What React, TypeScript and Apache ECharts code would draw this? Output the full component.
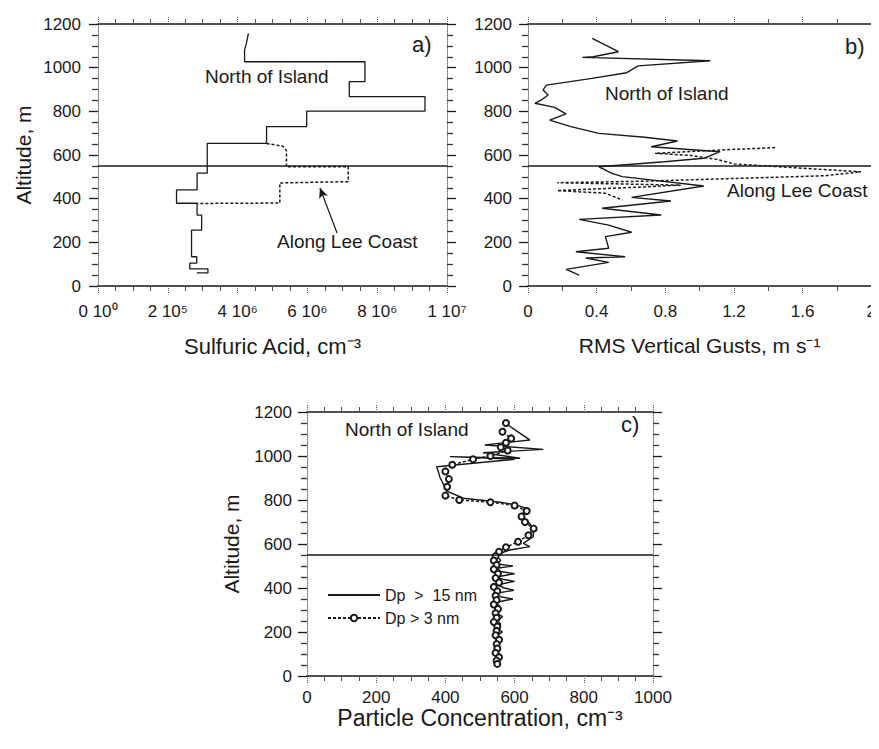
import React, { useEffect, useRef } from "react";
import * as echarts from "echarts";

// ---------- DATA ----------
const altTicks = [0, 200, 400, 600, 800, 1000, 1200];
const sulfuricTickLabels = ["0 10⁰", "2 10⁵", "4 10⁶", "6 10⁶", "8 10⁶", "1 10⁷"];
const gustTickLabels = ["0", "0.4", "0.8", "1.2", "1.6", "2"];
const particleTickLabels = ["0", "200", "400", "600", "800", "1000"];

// Panel a: sulfuric acid (cm^-3) vs altitude (m)
const sulfuricNorth: [number, number][] = [
  [4.31e6, 1157], [4.25e6, 1110], [4.2e6, 1081], [4.2e6, 1027], [7.65e6, 1027],
  [7.65e6, 936], [7.2e6, 936], [7.2e6, 867], [9.37e6, 867], [9.37e6, 801],
  [5.98e6, 801], [5.98e6, 730], [4.83e6, 730], [4.83e6, 653], [3.13e6, 653],
  [3.13e6, 517], [2.84e6, 517], [2.84e6, 440], [2.25e6, 440], [2.25e6, 379],
  [2.84e6, 379], [2.84e6, 325], [2.97e6, 325], [2.97e6, 256], [2.68e6, 256],
  [2.68e6, 134], [2.83e6, 134], [2.83e6, 105], [2.63e6, 105], [2.63e6, 78],
  [3.15e6, 78], [3.15e6, 60], [2.83e6, 60],
];
const sulfuricLee: [number, number][] = [
  [4.83e6, 653], [5.3e6, 640], [5.4e6, 620], [5.4e6, 546], [7.17e6, 546],
  [7.17e6, 478], [5.21e6, 472], [5.21e6, 380], [2.84e6, 378],
];
const arrowFrom: [number, number] = [6.85e6, 243];
const arrowTo: [number, number] = [6.36e6, 449];

// Panel b: RMS vertical gusts (m/s) vs altitude (m)
const gustNorth: [number, number][] = [
  [0.374, 1134], [0.527, 1073], [0.38, 1050], [0.317, 1047], [1.062, 1032],
  [0.642, 1008], [0.575, 977], [0.373, 951], [0.107, 920], [0.088, 898],
  [0.117, 875], [0.078, 852], [0.04, 837], [0.155, 818], [0.222, 788],
  [0.126, 760], [0.25, 730], [0.413, 699], [0.68, 681], [0.871, 664],
  [0.718, 638], [1.119, 615], [1.024, 585], [0.795, 569], [0.413, 546],
  [0.489, 516], [0.55, 501], [1.024, 458], [0.604, 406], [0.833, 389],
  [0.432, 356], [0.776, 325], [0.298, 305], [0.47, 279], [0.604, 246],
  [0.451, 226], [0.47, 173], [0.279, 157], [0.566, 134], [0.336, 128],
  [0.47, 108], [0.222, 76], [0.298, 50],
];
const gustLee: [number, number][] = [
  [1.44, 634], [1.1, 622], [0.74, 608], [0.95, 598], [1.1, 580], [1.2, 559],
  [1.94, 523], [1.73, 505], [0.68, 480], [0.17, 473], [0.89, 462], [0.62, 452],
  [0.17, 437], [0.45, 425], [0.55, 394],
];

// Panel c: particle concentration (cm^-3) vs altitude (m)
const particleDp15: [number, number][] = [
  [567, 1156], [600, 1120], [644, 1073], [514, 1050], [683, 1030], [509, 1015],
  [616, 990], [413, 997], [600, 985], [375, 951], [385, 900], [395, 870],
  [404, 840], [452, 808], [560, 790], [606, 777], [635, 762], [616, 725],
  [644, 694], [654, 660], [654, 633], [625, 603], [644, 588], [587, 573],
  [558, 558], [548, 545], [560, 525], [545, 510], [595, 500], [550, 490],
  [560, 475], [600, 465], [548, 450], [565, 440], [600, 430], [550, 415],
  [570, 400], [598, 390], [545, 375], [560, 360], [595, 350], [548, 335],
  [555, 320], [560, 300], [548, 285], [565, 270], [552, 250], [560, 235],
  [548, 220], [565, 200], [550, 185], [560, 170], [552, 150], [555, 130],
  [548, 110], [560, 95], [550, 80], [555, 65], [552, 55],
];
const particleDp3: [number, number][] = [
  [575, 1150], [565, 1110], [590, 1080], [575, 1060], [560, 1040], [580, 1025],
  [530, 1000], [480, 985], [420, 960], [400, 930], [410, 895], [405, 860],
  [400, 820], [440, 800], [530, 790], [600, 775], [635, 750], [620, 725],
  [630, 700], [655, 670], [640, 640], [610, 610], [575, 585], [555, 565],
  [545, 545], [540, 525], [548, 505], [540, 485], [552, 465], [545, 445],
  [555, 425], [540, 405], [550, 385], [545, 365], [548, 345], [540, 325],
  [552, 305], [545, 285], [548, 265], [540, 245], [550, 225], [548, 205],
  [545, 185], [555, 165], [548, 145], [550, 125], [545, 105], [555, 85],
  [548, 70], [550, 55],
];
const boundaryAltitude = 550;

// ---------- STYLE HELPERS ----------
const FONT = "'Liberation Sans', Arial, Helvetica, sans-serif";
const INK = "#1a1a1a";

function baseX(gridIndex: number, min: number, max: number, interval: number, split: number,
  name: string, labels: string[], labelMargin: number, nameGap: number, nameSize: number) {
  return {
    type: "value",
    gridIndex,
    min,
    max,
    interval,
    position: "bottom",
    name,
    nameLocation: "middle",
    nameGap,
    nameTextStyle: { fontFamily: FONT, fontSize: nameSize, color: INK },
    axisLine: { show: true, onZero: false, lineStyle: { color: INK, width: 1.6 } },
    axisTick: { show: true, length: 8, lineStyle: { color: "#555", type: "dotted", width: 1 } },
    minorTick: { show: true, splitNumber: split, length: 5, lineStyle: { color: "#555", width: 1 } },
    splitLine: { show: false },
    axisLabel: {
      fontFamily: FONT, fontSize: 17, color: INK, margin: labelMargin,
      formatter: (v: number) => labels[Math.round((v - min) / interval)] ?? "",
    },
  };
}
function topX(gridIndex: number, min: number, max: number, interval: number, split: number) {
  return {
    type: "value", gridIndex, min, max, interval, position: "top",
    axisLine: { show: true, onZero: false, lineStyle: { color: INK, width: 1.6 } },
    axisTick: { show: true, length: 8, lineStyle: { color: "#555", type: "dotted", width: 1 } },
    minorTick: { show: true, splitNumber: split, length: 5, lineStyle: { color: "#555", width: 1 } },
    splitLine: { show: false },
    axisLabel: { show: false },
  };
}
function leftY(gridIndex: number, showName: boolean, nameGap: number, labelMargin: number) {
  return {
    type: "value", gridIndex, min: 0, max: 1200, interval: 200, position: "left",
    name: showName ? "Altitude, m" : "",
    nameLocation: "middle",
    nameGap,
    nameRotate: 90,
    nameTextStyle: { fontFamily: FONT, fontSize: 21, color: INK },
    axisLine: { show: true, onZero: false, lineStyle: { color: "#777", type: "dotted", width: 1 } },
    axisTick: { show: true, length: 9, lineStyle: { color: INK, width: 1.3 } },
    minorTick: { show: true, splitNumber: 4, length: 6, lineStyle: { color: "#333", width: 1.3 } },
    splitLine: { show: false },
    axisLabel: {
      fontFamily: FONT, fontSize: 17, color: INK, margin: labelMargin,
      formatter: (v: number) => (altTicks.includes(v) ? String(v) : ""),
    },
  };
}
function rightY(gridIndex: number) {
  return {
    type: "value", gridIndex, min: 0, max: 1200, interval: 200, position: "right",
    axisLine: { show: true, onZero: false, lineStyle: { color: "#777", type: "dotted", width: 1 } },
    axisTick: { show: true, length: 9, lineStyle: { color: INK, width: 1.3 } },
    minorTick: { show: true, splitNumber: 4, length: 6, lineStyle: { color: "#333", width: 1.3 } },
    splitLine: { show: false },
    axisLabel: { show: false },
  };
}
const boundaryLine = {
  silent: true,
  symbol: "none",
  label: { show: false },
  lineStyle: { color: INK, width: 1.6, type: "solid" },
  data: [{ yAxis: boundaryAltitude }],
};

export default function App() {
  const ref = useRef<HTMLDivElement>(null);
  useEffect(() => {
    if (!ref.current) return;
    const chart = echarts.init(ref.current, undefined, { renderer: "svg" });
    const solid = { color: INK, width: 1.3, type: "solid" };
    const dotted = { color: INK, width: 1.5, type: [3, 2] };
    const txt = (text: string, left: number, top: number, size: number) => ({
      type: "text", left, top, style: { text, font: `${size}px ${FONT}`, fill: INK },
    });
    chart.setOption({
      animation: false,
      backgroundColor: "#ffffff",
      textStyle: { fontFamily: FONT },
      grid: [
        { left: 98, top: 24, width: 349, height: 262 },
        { left: 528, top: 24, width: 349, height: 262 },
        { left: 307, top: 412, width: 346, height: 264 },
      ],
      xAxis: [
        baseX(0, 0, 1e7, 2e6, 4, "Sulfuric Acid, cm⁻³", sulfuricTickLabels, 17, 49, 22),
        topX(0, 0, 1e7, 2e6, 4),
        baseX(1, 0, 2, 0.4, 2, "RMS Vertical Gusts, m s⁻¹", gustTickLabels, 17, 49, 21),
        topX(1, 0, 2, 0.4, 2),
        baseX(2, 0, 1000, 200, 4, "Particle Concentration, cm⁻³", particleTickLabels, 13, 30, 23),
        topX(2, 0, 1000, 200, 4),
      ],
      yAxis: [
        leftY(0, true, 64, 17),
        rightY(0),
        leftY(1, false, 50, 16),
        rightY(1),
        leftY(2, true, 65, 15),
        rightY(2),
      ],
      legend: {
        left: 322,
        top: 582,
        orient: "vertical",
        itemWidth: 52,
        itemHeight: 8,
        itemGap: 7,
        textStyle: { fontFamily: FONT, fontSize: 16, color: INK },
        data: [
          { name: "Dp  >  15 nm", itemStyle: { opacity: 0 } },
          { name: "Dp > 3 nm" },
        ],
      },
      series: [
        {
          type: "line", xAxisIndex: 0, yAxisIndex: 0, data: sulfuricNorth,
          symbol: "none", lineStyle: solid, markLine: boundaryLine,
        },
        {
          type: "line", xAxisIndex: 0, yAxisIndex: 0, data: sulfuricLee,
          symbol: "none", lineStyle: dotted,
          markLine: {
            silent: true,
            label: { show: false },
            symbolSize: [7, 10],
            lineStyle: { color: INK, width: 1.2, type: "solid" },
            data: [[
              { coord: arrowFrom, symbol: "none" },
              { coord: arrowTo, symbol: "arrow" },
            ]],
          },
        },
        {
          type: "line", xAxisIndex: 2, yAxisIndex: 2, data: gustNorth,
          symbol: "none", lineStyle: { ...solid, width: 1.4 }, markLine: boundaryLine,
        },
        {
          type: "line", xAxisIndex: 2, yAxisIndex: 2, data: gustLee,
          symbol: "none", lineStyle: dotted,
        },
        {
          name: "Dp  >  15 nm",
          type: "line", xAxisIndex: 4, yAxisIndex: 4, data: particleDp15,
          symbol: "none", lineStyle: { ...solid, width: 1.4 }, itemStyle: { color: INK },
          markLine: boundaryLine,
        },
        {
          name: "Dp > 3 nm",
          type: "line", xAxisIndex: 4, yAxisIndex: 4, data: particleDp3,
          symbol: "emptyCircle", symbolSize: 6, showAllSymbol: true,
          lineStyle: dotted, itemStyle: { color: INK, borderColor: INK, borderWidth: 1.1 },
        },
      ],
      graphic: [
        txt("a)", 412, 33, 22),
        txt("b)", 845, 35, 22),
        txt("c)", 621, 413, 22),
        txt("North of Island", 205, 67, 19),
        txt("North of Island", 605, 84, 19),
        txt("North of Island", 345, 420, 19),
        txt("Along Lee Coast", 277, 232, 19),
        txt("Along Lee Coast", 727, 181, 19),
      ],
    });
    return () => chart.dispose();
  }, []);
  return <div ref={ref} style={{ width: 879, height: 749, margin: -8 }} />;
}
